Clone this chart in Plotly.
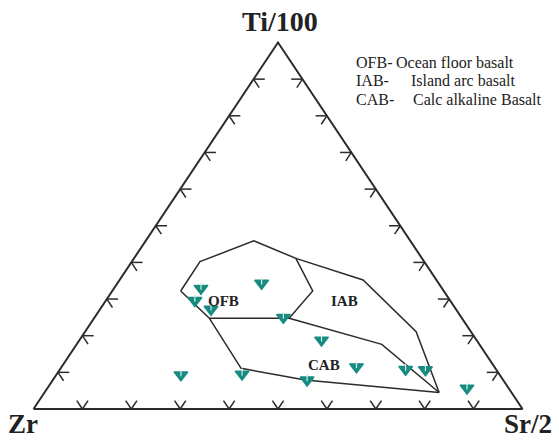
import plotly.graph_objects as go

# Sample compositions (fractions of Ti/100, Zr, Sr/2)
sample_ti = [0.329, 0.343, 0.296, 0.272, 0.250, 0.188, 0.115, 0.108, 0.107, 0.093, 0.095, 0.079, 0.057]
sample_zr = [0.493, 0.362, 0.522, 0.501, 0.364, 0.317, 0.282, 0.185, 0.145, 0.652, 0.526, 0.401, 0.086]
sample_sr = [0.178, 0.295, 0.182, 0.227, 0.386, 0.495, 0.603, 0.707, 0.748, 0.255, 0.379, 0.520, 0.858]

# Field boundaries (Ti, Zr, Sr)
ofb_ti = [0.322, 0.402, 0.459, 0.411, 0.322, 0.2475, 0.2475, 0.322]
ofb_zr = [0.538, 0.4585, 0.320, 0.258, 0.268, 0.353, 0.5165, 0.538]
ofb_sr = [0.140, 0.1395, 0.221, 0.331, 0.410, 0.399, 0.236, 0.140]

iab_ti = [0.411, 0.352, 0.211, 0.045]
iab_zr = [0.258, 0.150, 0.112, 0.148]
iab_sr = [0.331, 0.498, 0.677, 0.807]

cab_upper_ti = [0.2475, 0.1765, 0.045]
cab_upper_zr = [0.353, 0.200, 0.148]
cab_upper_sr = [0.399, 0.624, 0.807]

cab_lower_ti = [0.2475, 0.111, 0.079, 0.045]
cab_lower_zr = [0.5165, 0.520, 0.405, 0.148]
cab_lower_sr = [0.236, 0.369, 0.516, 0.807]

tick_values = [0.1, 0.2, 0.3, 0.4, 0.5, 0.6, 0.7, 0.8, 0.9]

W, H = 559, 441
# pixel geometry of the triangle
X0, X1, YB, YT = 33.5, 522.5, 409.0, 42.5
SPAN_X = X1 - X0
SPAN_Y = YB - YT


def to_xy(t, s):
    """Ternary (Ti, Sr) fractions -> cartesian (Zr corner at 0,0; Sr corner at 1,0; Ti apex at 0.5,1)."""
    return s + 0.5 * t, t


def xy_list(ts, ss):
    xs, ys = [], []
    for t, s in zip(ts, ss):
        x, y = to_xy(t, s)
        xs.append(x)
        ys.append(y)
    return xs, ys


LINE_COL = "#2b2b2b"
TEAL = "#168b81"

fig = go.Figure()

# triangle frame
fx, fy = xy_list([0, 0, 1, 0], [0, 1, 0, 0])
fig.add_trace(go.Scatter(x=fx, y=fy, mode="lines",
                         line=dict(color=LINE_COL, width=2), hoverinfo="skip"))

# chevron ticks along each edge
d = 0.023
tx, ty = [], []
for v in tick_values:
    # bottom edge (Ti = 0, Sr = v): arms parallel to the two side edges
    for (t, s) in [(d, v), (d, v - d)]:
        a = to_xy(0, v); b = to_xy(t, s)
        tx += [a[0], b[0], None]; ty += [a[1], b[1], None]
    # left edge (Sr = 0, Ti = v): horizontal arm and arm parallel to right edge
    for (t, s) in [(v, d), (v - d, d)]:
        a = to_xy(v, 0); b = to_xy(t, s)
        tx += [a[0], b[0], None]; ty += [a[1], b[1], None]
    # right edge (Zr = 0, Ti = v): horizontal arm and arm parallel to left edge
    for (t, s) in [(v, 1 - v - d), (v - d, 1 - v)]:
        a = to_xy(v, 1 - v); b = to_xy(t, s)
        tx += [a[0], b[0], None]; ty += [a[1], b[1], None]
fig.add_trace(go.Scatter(x=tx, y=ty, mode="lines",
                         line=dict(color=LINE_COL, width=1.5), hoverinfo="skip"))

# discrimination fields
for ts, ss in [(ofb_ti, ofb_sr), (iab_ti, iab_sr),
               (cab_upper_ti, cab_upper_sr), (cab_lower_ti, cab_lower_sr)]:
    bx, by = xy_list(ts, ss)
    fig.add_trace(go.Scatter(x=bx, y=by, mode="lines",
                             line=dict(color=LINE_COL, width=1.5), hoverinfo="skip"))

# samples
px, py = xy_list(sample_ti, sample_sr)
fig.add_trace(go.Scatter(x=px, y=py, mode="markers",
                         marker=dict(symbol="triangle-down", size=12, color=TEAL,
                                     line=dict(color=TEAL, width=1.4)),
                         customdata=list(zip(sample_ti, sample_zr, sample_sr)),
                         hovertemplate="Ti/100 %{customdata[0]}<br>Zr %{customdata[1]}<br>Sr/2 %{customdata[2]}<extra></extra>"))
fig.add_trace(go.Scatter(x=px, y=[v + 0.006 for v in py], mode="markers",
                         marker=dict(symbol="line-ns", size=5,
                                     line=dict(color="#d8eeea", width=1.2)),
                         hoverinfo="skip"))


def paper(xp, yp):
    return xp / W, 1 - yp / H


annotations = []


def label(text, xp, yp, size, bold=False, xanchor="center"):
    x, y = paper(xp, yp)
    annotations.append(dict(text=f"<b>{text}</b>" if bold else text, x=x, y=y,
                            xref="paper", yref="paper", showarrow=False,
                            xanchor=xanchor, yanchor="middle",
                            font=dict(family="Liberation Serif", size=size, color="#222222")))


label("Ti/100", 280, 21, 28, bold=True)
label("Zr", 23, 424, 27, bold=True)
label("Sr/2", 528, 424, 27, bold=True)

label("OFB", 223, 301, 15, bold=True)
label("IAB", 344, 301, 15, bold=True)
label("CAB", 324, 365, 15, bold=True)

label("OFB-", 354, 63, 16, xanchor="left")
label("Ocean floor basalt", 394, 63, 16, xanchor="left")
label("IAB-", 354, 81, 16, xanchor="left")
label("Island arc basalt", 409, 81, 16, xanchor="left")
label("CAB-", 354, 99, 16, xanchor="left")
label("Calc alkaline Basalt", 411, 99, 16, xanchor="left")

fig.update_layout(
    width=W, height=H,
    margin=dict(l=0, r=0, t=0, b=0),
    paper_bgcolor="white", plot_bgcolor="white",
    showlegend=False,
    annotations=annotations,
    xaxis=dict(range=[(0 - X0) / SPAN_X, (W - X0) / SPAN_X], visible=False, fixedrange=True),
    yaxis=dict(range=[(YB - H) / SPAN_Y, YB / SPAN_Y], visible=False, fixedrange=True),
)

fig.write_html("out.html")
